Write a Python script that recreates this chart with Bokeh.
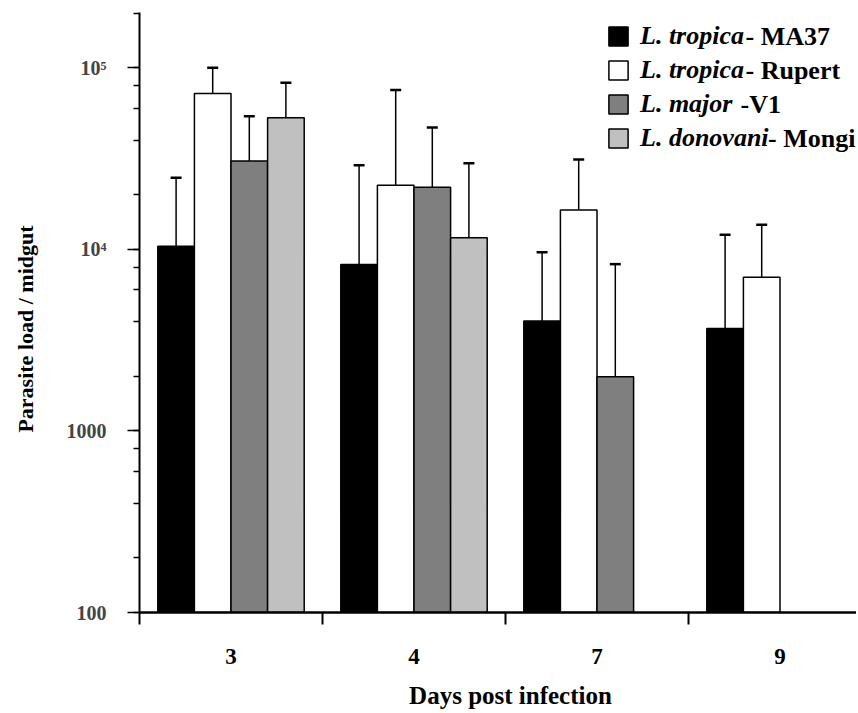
import math
from bokeh.plotting import figure
from bokeh.models import (Range1d, FixedTicker, LogTicker, Whisker, TeeHead,
                          ColumnDataSource, Legend, LegendItem, Label)
from bokeh.embed import file_html
from bokeh.resources import INLINE

# ---------------- data ----------------
days = ["3", "4", "7", "9"]
species = ["L. tropica", "L. tropica", "L. major", "L. donovani"]
strain_suffix = ["- MA37", "- Rupert", "-V1", "- Mongi"]

ma37 = [10400, 8260, 4030, 3670]
ma37_upper = [24800, 29100, 9660, 12050]
rupert = [72400, 22600, 16500, 7030]
rupert_upper = [100300, 75500, 31300, 13680]
v1 = [30700, 22000, 1990, None]
v1_upper = [54200, 46900, 8300, None]
mongi = [53200, 11600, None, None]
mongi_upper = [82800, 29800, None, None]

y_tick_values = [100, 1000, 10000, 100000]
y_tick_labels = ["100", "1000", "10\u2074", "10\u2075"]

series = [ma37, rupert, v1, mongi]
series_upper = [ma37_upper, rupert_upper, v1_upper, mongi_upper]
colors = ["#000000", "#ffffff", "#7f7f7f", "#c0c0c0"]

# ---------------- layout ----------------
PAGE_OFF = 1
W, H = 856, 711
ML, MR, MT, MB = 139, 0, 12, 99
FRAME_W = W - ML - MR
FRAME_H = H - MT - MB
PX_PER_GROUP = 183.0
X_END = FRAME_W / PX_PER_GROUP
Y0, Y1 = 100, 202000
SERIF = "Liberation Serif"

p = figure(width=W, height=H, output_backend="svg", toolbar_location=None,
           y_axis_type="log", x_range=Range1d(0, X_END), y_range=Range1d(Y0, Y1),
           min_border_left=ML, min_border_right=MR, min_border_top=MT,
           min_border_bottom=MB)
p.outline_line_color = None
p.xgrid.visible = False
p.ygrid.visible = False
p.background_fill_color = "white"
p.border_fill_color = "white"

# helpers converting page pixels into data coords
def dx(px):
    return (px - PAGE_OFF - ML) / FRAME_W * X_END
def dy(py):
    f = (MT + FRAME_H - (py - PAGE_OFF)) / FRAME_H
    return 10 ** (math.log10(Y0) + f * (math.log10(Y1) - math.log10(Y0)))

bar_w = 0.2
n = len(series)
renderers = []
for k, (vals, ups, col) in enumerate(zip(series, series_upper, colors)):
    off = (k - (n - 1) / 2) * bar_w
    xs, tops, upp = [], [], []
    for i, (v, u) in enumerate(zip(vals, ups)):
        if v is None:
            continue
        xs.append(i + 0.5 + off)
        tops.append(v)
        upp.append(u)
    src = ColumnDataSource(dict(x=xs, top=tops, upper=upp))
    r = p.vbar(x="x", top="top", bottom=Y0, width=bar_w, source=src,
               fill_color=col, line_color="black", line_width=1.5)
    renderers.append(r)
    wk = Whisker(source=src, base="x", lower="top", upper="upper",
                 dimension="height", line_color="black", line_width=1.5,
                 upper_head=TeeHead(size=11, line_color="black", line_width=2.5),
                 lower_head=None, level="overlay")
    p.add_layout(wk)

# x axis
centers = [i + 0.5 for i in range(len(days))]
bounds = list(range(len(days) + 1))
xa = p.xaxis[0]
xa.ticker = FixedTicker(ticks=centers, minor_ticks=bounds)
xa.major_label_overrides = {c: d for c, d in zip(centers, days)}
xa.major_tick_out = 0
xa.major_tick_in = 0
xa.minor_tick_out = 12
xa.minor_tick_in = 0
xa.minor_tick_line_width = 2
xa.axis_line_width = 2.5
xa.major_label_standoff = 24
xa.major_label_text_font = SERIF
xa.major_label_text_font_style = "bold"
xa.major_label_text_font_size = "23px"
xa.major_label_text_color = "black"
# leading em space nudges the centred title right, onto the group span centre
xa.axis_label = "\u2003Days post infection"
xa.axis_label_text_font = SERIF
xa.axis_label_text_font_style = "bold"
xa.axis_label_text_font_size = "25px"
xa.axis_label_text_color = "black"
xa.axis_label_standoff = 15

# y axis
ya = p.yaxis[0]
ya.ticker = LogTicker(desired_num_ticks=4)
ya.major_label_overrides = {float(v): l for v, l in zip(y_tick_values, y_tick_labels)}
ya.major_tick_out = 12
ya.major_tick_in = 0
ya.minor_tick_out = 6
ya.minor_tick_in = 0
ya.major_tick_line_width = 1.5
ya.minor_tick_line_width = 1.5
ya.axis_line_width = 2
ya.major_label_standoff = 21
ya.major_label_text_font = SERIF
ya.major_label_text_font_style = "bold"
ya.major_label_text_font_size = "20px"
# trailing spaces nudge the rotated title slightly downward
ya.axis_label = "Parasite load / midgut\u2003\u2002"
ya.axis_label_text_font = SERIF
ya.axis_label_text_font_style = "bold"
ya.axis_label_text_font_size = "22px"
ya.axis_label_text_color = "black"
ya.axis_label_standoff = 26

# legend
items = [LegendItem(label=s, renderers=[r]) for s, r in zip(species, renderers)]
leg = Legend(items=items, location=(467, 459), orientation="vertical",
             glyph_width=24, glyph_height=24, label_standoff=10, spacing=4,
             padding=0, margin=0, border_line_alpha=0, background_fill_alpha=0,
             label_text_font=SERIF, label_text_font_style="bold italic",
             label_text_font_size="26px", label_text_color="black")
p.add_layout(leg)

suffix_px = [746, 746, 741, 768.5]
row_py = [36.5, 70.5, 104.5, 138.5]
for s, sx, ry in zip(strain_suffix, suffix_px, row_py):
    p.add_layout(Label(x=dx(sx), y=dy(ry), text=s, text_font=SERIF,
                       text_font_style="bold", text_font_size="26px",
                       text_baseline="middle", text_align="left",
                       text_color="black"))

open("out.html", "w").write(file_html(p, INLINE))
